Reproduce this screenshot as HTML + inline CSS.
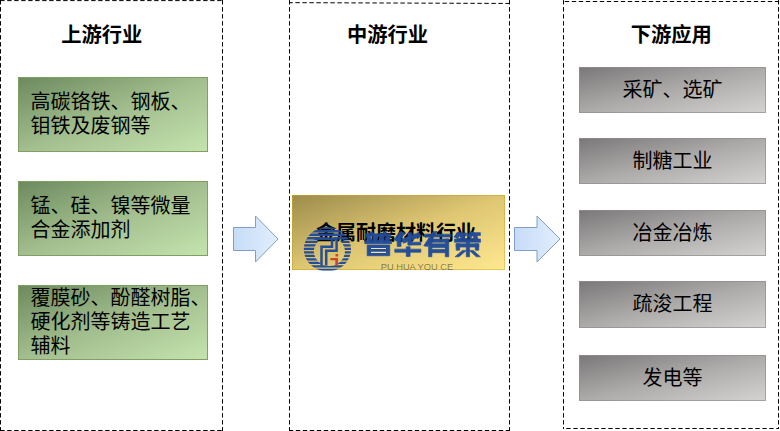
<!DOCTYPE html>
<html><head><meta charset="utf-8"><title>diagram</title>
<style>
html,body{margin:0;padding:0;background:#fff;}
body{width:780px;height:431px;overflow:hidden;font-family:"Liberation Sans",sans-serif;}
svg{display:block;}
</style></head><body>
<svg width="780" height="431" viewBox="0 0 780 431">

<defs>
<linearGradient id="gG" x1="0" y1="0" x2="1" y2="1">
  <stop offset="0" stop-color="#6c8a5e"/><stop offset="0.5" stop-color="#a2be8e"/><stop offset="1" stop-color="#c4e4ae"/>
</linearGradient>
<linearGradient id="gY" x1="0" y1="0" x2="1" y2="1">
  <stop offset="0" stop-color="#9c8c4c"/><stop offset="0.5" stop-color="#dec672"/><stop offset="1" stop-color="#ffe890"/>
</linearGradient>
<linearGradient id="gYs" x1="0" y1="0" x2="1" y2="1">
  <stop offset="0" stop-color="#b89c28"/><stop offset="1" stop-color="#ecc85c"/>
</linearGradient>
<linearGradient id="gK" x1="0" y1="0" x2="1" y2="1">
  <stop offset="0" stop-color="#7a7878"/><stop offset="0.5" stop-color="#adaaaa"/><stop offset="1" stop-color="#d5d2d2"/>
</linearGradient>
<linearGradient id="gKs" x1="0" y1="0" x2="1" y2="1">
  <stop offset="0" stop-color="#8a8888"/><stop offset="1" stop-color="#a4a2a2"/>
</linearGradient>
<linearGradient id="gA" x1="0" y1="0" x2="1" y2="0">
  <stop offset="0" stop-color="#c6dcf8"/><stop offset="1" stop-color="#e2eefc"/>
</linearGradient>
</defs>

<g stroke="#000" stroke-width="1" stroke-dasharray="4.4 2.6" fill="none">
<line x1="0" y1="0.6" x2="223" y2="0.6" stroke-dashoffset="6.8"/>
<line x1="0" y1="430.5" x2="223" y2="430.5" stroke-dashoffset="6.8"/>
<line x1="0.5" y1="0" x2="0.5" y2="431" stroke-dashoffset="6.9"/>
<line x1="222.5" y1="0" x2="222.5" y2="431" stroke-dashoffset="6.9"/>
<line x1="289" y1="2.65" x2="510" y2="3.45" stroke-dashoffset="0.6"/>
<line x1="289" y1="430.5" x2="510" y2="430.5" stroke-dashoffset="0.2"/>
<line x1="289.5" y1="0" x2="289.5" y2="431" stroke-dashoffset="6.9"/>
<line x1="509.5" y1="0" x2="509.5" y2="431" stroke-dashoffset="6.9"/>
<line x1="563" y1="1.5" x2="779" y2="1.5" stroke-dashoffset="5.2"/>
<line x1="563" y1="428.5" x2="779" y2="428.5" stroke-dashoffset="3.7"/>
<line x1="563.5" y1="0" x2="563.5" y2="429" stroke-dashoffset="6.9"/>
<line x1="778.5" y1="0" x2="778.5" y2="429" stroke-dashoffset="6.9"/>
</g>
<rect x="18.5" y="77.5" width="189" height="74" fill="url(#gG)" stroke="#7f9f64" stroke-width="1"/>
<rect x="18.5" y="181.5" width="189" height="74" fill="url(#gG)" stroke="#7f9f64" stroke-width="1"/>
<rect x="18.5" y="285.5" width="189" height="74" fill="url(#gG)" stroke="#7f9f64" stroke-width="1"/>
<rect x="292.5" y="195.5" width="212" height="74" fill="url(#gY)" stroke="url(#gYs)" stroke-width="1"/>
<rect x="579.5" y="67.5" width="186" height="45" fill="url(#gK)" stroke="url(#gKs)" stroke-width="1"/>
<rect x="579.5" y="138.5" width="186" height="45" fill="url(#gK)" stroke="url(#gKs)" stroke-width="1"/>
<rect x="579.5" y="210.5" width="186" height="45" fill="url(#gK)" stroke="url(#gKs)" stroke-width="1"/>
<rect x="579.5" y="281.5" width="186" height="46" fill="url(#gK)" stroke="url(#gKs)" stroke-width="1"/>
<rect x="579.5" y="355.5" width="186" height="45" fill="url(#gK)" stroke="url(#gKs)" stroke-width="1"/>
<polygon points="233.5,227.5 255.5,227.5 255.5,216 278,239 255.5,262 255.5,250.5 233.5,250.5" fill="url(#gA)" stroke="#7f9fca" stroke-width="1" stroke-linejoin="miter"/>
<polygon points="514.5,227.5 537,227.5 537,216 560,239 537,262 537,250.5 514.5,250.5" fill="url(#gA)" stroke="#7f9fca" stroke-width="1" stroke-linejoin="miter"/>
<g font-family='"Liberation Sans", "Noto Sans CJK SC", sans-serif' fill="#000">
<text x="101.7" y="41.5" font-size="20.3" font-weight="bold" text-anchor="middle">上游行业</text>
<text x="387.6" y="41.5" font-size="20.3" font-weight="bold" text-anchor="middle">中游行业</text>
<text x="671.3" y="41.5" font-size="20.3" font-weight="bold" text-anchor="middle">下游应用</text>
<text x="30.5" y="109" font-size="20">高碳铬铁、钢板、</text>
<text x="30.5" y="133" font-size="20">钼铁及废钢等</text>
<text x="30.5" y="213" font-size="20">锰、硅、镍等微量</text>
<text x="30.5" y="237" font-size="20">合金添加剂</text>
<text x="30.5" y="305" font-size="20">覆膜砂、酚醛树脂、</text>
<text x="30.5" y="329" font-size="20">硬化剂等铸造工艺</text>
<text x="30.5" y="353" font-size="20">辅料</text>
<text x="672.5" y="96.5" font-size="20" text-anchor="middle">采矿、选矿</text>
<text x="672.5" y="167.5" font-size="20" text-anchor="middle">制糖工业</text>
<text x="672.5" y="239.5" font-size="20" text-anchor="middle">冶金冶炼</text>
<text x="672.5" y="311" font-size="20" text-anchor="middle">疏浚工程</text>
<text x="672.5" y="384.5" font-size="20" text-anchor="middle">发电等</text>
<text x="396" y="239.5" font-size="20" font-weight="bold" text-anchor="middle">金属耐磨材料行业</text>
</g>
<clipPath id="ring"><path clip-rule="evenodd" d="M303.8,249.2 a23.6,22.2 0 1,0 47.2,0 a23.6,22.2 0 1,0 -47.2,0 Z M313.9,251.5 a15.5,14.6 0 1,0 31,0 a15.5,14.6 0 1,0 -31,0 Z"/></clipPath><clipPath id="inbox"><rect x="292" y="195" width="213" height="75.4"/></clipPath><clipPath id="below"><rect x="292" y="270.4" width="213" height="10"/></clipPath><g opacity="0.97" clip-path="url(#inbox)"><path clip-path="url(#ring)" fill="#214b99" d="M301,223.08h52v2.4h-52zM301,226.59h52v2.4h-52zM301,230.1h52v2.4h-52zM301,233.61h52v2.4h-52zM301,237.12h52v2.4h-52zM301,240.63h52v2.4h-52zM301,244.14h52v2.4h-52zM301,247.65h52v2.4h-52zM301,251.16h52v2.4h-52zM301,254.67h52v2.4h-52zM301,258.18h52v2.4h-52zM301,261.69h52v2.4h-52zM301,265.2h52v2.4h-52zM301,268.71h52v2.4h-52zM301,272.22h52v2.4h-52z"/><path fill="none" stroke="#214b99" stroke-width="2.5" stroke-linejoin="miter" d="M314.2,238.7H336.6V250.8H326.2V265.4 M332,239V246.8H321.5V265.4"/><path fill="#c9432b" d="M335.5,254h2.6v2.5h-2.6z M330.4,258h7.7v7.2h-2.8v-4.9h-4.9z"/><path fill="#214b99" stroke="#214b99" stroke-width="0.7" fill-rule="nonzero" d="M369.61,232.09L372.53,232.09L373.57,234.03L370.65,234.03ZM383.52,231.95L386.44,231.95L385.26,234.03L382.34,234.03ZM365.78,233.83H390.83V236.26H365.78ZM372.88,236.12H377.26V240.92H372.88ZM379.56,236.12H383.94V240.92H379.56ZM366.34,236.68L370.51,236.68L372.04,240.64L367.87,240.64ZM386.23,236.68L390.41,236.68L388.88,240.64L384.70,240.64ZM364.74,240.78H391.52V243.63H364.74ZM367.17,244.96H389.78V255.74H367.17ZM400.35,231.53L405.22,233.34L397.91,241.83L393.74,239.39ZM397.22,237.79H401.04V246.42H397.22ZM408.00,232.78H411.83V244.96H408.00ZM418.43,232.43L421.22,236.12L403.48,243.22L401.39,239.60ZM408.00,242.17H420.87V244.96H408.00ZM394.78,249.13H420.87V252.26H394.78ZM406.26,246.70H410.09V256.43H406.26ZM424.43,234.17H450.87V236.96H424.43ZM433.13,231.53L437.03,231.53L427.43,246.56L423.74,245.72ZM428.61,239.04H431.88V256.78H428.61ZM445.30,239.04H448.78V256.78H445.30ZM428.61,239.04H448.78V242.24H428.61ZM431.74,243.77H445.37V247.60H431.74ZM431.74,249.48H445.37V252.68H431.74ZM456.87,232.92H466.47V235.84H456.87ZM457.57,232.09L461.60,233.13L457.57,238.49L453.95,236.96ZM459.79,235.57L463.69,235.57L464.73,239.04L460.83,239.04ZM470.09,232.64H480.38V235.57H470.09ZM470.43,231.74L474.47,232.78L470.78,238.14L467.17,236.61ZM473.01,235.22L476.90,235.22L477.95,239.04L474.05,239.04ZM454.43,239.04H480.52V242.24H454.43ZM456.17,243.77H478.78V247.04H456.17ZM456.17,243.77H459.65V250.17H456.17ZM475.30,243.77H478.78V250.17H475.30ZM466.26,239.04H469.53V256.78H466.26ZM462.43,250.38L466.40,250.38L458.96,256.78L454.99,256.78ZM469.39,250.38L473.36,250.38L480.31,256.78L476.35,256.78Z"/><path fill="#f3e4a6" d="M371.00,247.88H385.96V248.99H371.00ZM371.00,251.84H385.96V252.96H371.00Z"/></g><g opacity="0.22" clip-path="url(#below)"><path clip-path="url(#ring)" fill="#214b99" d="M301,223.08h52v2.4h-52zM301,226.59h52v2.4h-52zM301,230.1h52v2.4h-52zM301,233.61h52v2.4h-52zM301,237.12h52v2.4h-52zM301,240.63h52v2.4h-52zM301,244.14h52v2.4h-52zM301,247.65h52v2.4h-52zM301,251.16h52v2.4h-52zM301,254.67h52v2.4h-52zM301,258.18h52v2.4h-52zM301,261.69h52v2.4h-52zM301,265.2h52v2.4h-52zM301,268.71h52v2.4h-52zM301,272.22h52v2.4h-52z"/><path fill="none" stroke="#214b99" stroke-width="2.5" stroke-linejoin="miter" d="M314.2,238.7H336.6V250.8H326.2V265.4 M332,239V246.8H321.5V265.4"/><path fill="#c9432b" d="M335.5,254h2.6v2.5h-2.6z M330.4,258h7.7v7.2h-2.8v-4.9h-4.9z"/><path fill="#214b99" stroke="#214b99" stroke-width="0.7" fill-rule="nonzero" d="M369.61,232.09L372.53,232.09L373.57,234.03L370.65,234.03ZM383.52,231.95L386.44,231.95L385.26,234.03L382.34,234.03ZM365.78,233.83H390.83V236.26H365.78ZM372.88,236.12H377.26V240.92H372.88ZM379.56,236.12H383.94V240.92H379.56ZM366.34,236.68L370.51,236.68L372.04,240.64L367.87,240.64ZM386.23,236.68L390.41,236.68L388.88,240.64L384.70,240.64ZM364.74,240.78H391.52V243.63H364.74ZM367.17,244.96H389.78V255.74H367.17ZM400.35,231.53L405.22,233.34L397.91,241.83L393.74,239.39ZM397.22,237.79H401.04V246.42H397.22ZM408.00,232.78H411.83V244.96H408.00ZM418.43,232.43L421.22,236.12L403.48,243.22L401.39,239.60ZM408.00,242.17H420.87V244.96H408.00ZM394.78,249.13H420.87V252.26H394.78ZM406.26,246.70H410.09V256.43H406.26ZM424.43,234.17H450.87V236.96H424.43ZM433.13,231.53L437.03,231.53L427.43,246.56L423.74,245.72ZM428.61,239.04H431.88V256.78H428.61ZM445.30,239.04H448.78V256.78H445.30ZM428.61,239.04H448.78V242.24H428.61ZM431.74,243.77H445.37V247.60H431.74ZM431.74,249.48H445.37V252.68H431.74ZM456.87,232.92H466.47V235.84H456.87ZM457.57,232.09L461.60,233.13L457.57,238.49L453.95,236.96ZM459.79,235.57L463.69,235.57L464.73,239.04L460.83,239.04ZM470.09,232.64H480.38V235.57H470.09ZM470.43,231.74L474.47,232.78L470.78,238.14L467.17,236.61ZM473.01,235.22L476.90,235.22L477.95,239.04L474.05,239.04ZM454.43,239.04H480.52V242.24H454.43ZM456.17,243.77H478.78V247.04H456.17ZM456.17,243.77H459.65V250.17H456.17ZM475.30,243.77H478.78V250.17H475.30ZM466.26,239.04H469.53V256.78H466.26ZM462.43,250.38L466.40,250.38L458.96,256.78L454.99,256.78ZM469.39,250.38L473.36,250.38L480.31,256.78L476.35,256.78Z"/><path fill="#f3e4a6" d="M371.00,247.88H385.96V248.99H371.00ZM371.00,251.84H385.96V252.96H371.00Z"/></g><text x="380.8" y="269.9" font-family='"Liberation Sans", sans-serif' font-size="9.3" fill="#5a4e2c" fill-opacity="0.7" textLength="72.3" lengthAdjust="spacing">PU HUA YOU CE</text>
</svg>
</body></html>
